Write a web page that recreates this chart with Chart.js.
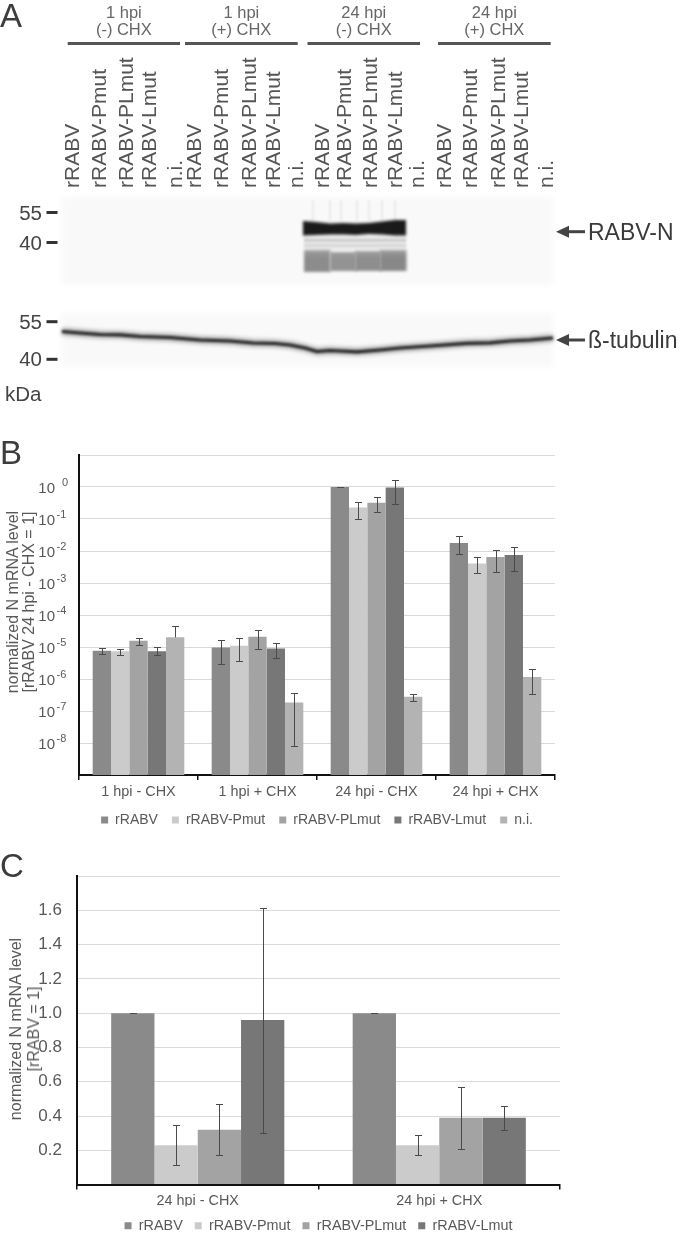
<!DOCTYPE html>
<html><head><meta charset="utf-8">
<script src="https://cdn.jsdelivr.net/npm/chart.js@4.4.1/dist/chart.umd.min.js"></script>
<style>
html,body{margin:0;padding:0;background:#fff;overflow:hidden}
#page{position:relative;width:680px;height:1235px;overflow:hidden;font-family:"Liberation Sans",Arial,sans-serif}
.t{position:absolute;white-space:nowrap;line-height:1}
.c{transform:translate(-50%,-50%)}
.rt{transform:translate(-100%,-50%)}
.l{transform:translate(0,-50%)}
.r{transform:translate(-50%,-50%) rotate(-90deg)}
.lane{transform:rotate(-90deg);transform-origin:0 0}
canvas{position:absolute;left:0}
</style></head><body><div id="page">
<canvas id="blot" width="680" height="410" style="top:0"></canvas>
<canvas id="chartB" width="680" height="410" style="top:430px"></canvas>
<canvas id="chartC" width="680" height="398" style="top:845px"></canvas>
</div>
<script>
// ---------- data ----------
const seriesNames = ['rRABV', 'rRABV-Pmut', 'rRABV-PLmut', 'rRABV-Lmut', 'n.i.'];
const seriesColors = ['#8a8a8a', '#cbcbcb', '#a3a3a3', '#777777', '#b3b3b3'];

// Panel B (log scale)
const categoriesB = ['1 hpi - CHX', '1 hpi + CHX', '24 hpi - CHX', '24 hpi + CHX'];
const rRABV_B = [7.7e-6, 9.7e-6, 1.0, 1.78e-2];
const Pmut_B  = [7.3e-6, 1.1e-5, 0.23, 4.1e-3];
const PLmut_B = [1.58e-5, 2.1e-5, 0.32, 6.5e-3];
const Lmut_B  = [7.3e-6, 8.9e-6, 0.96, 7.5e-3];
const ni_B    = [2.0e-5, 1.86e-7, 2.8e-7, 1.15e-6];
const rRABV_B_hi = [9.3e-6, 1.7e-5, 1.0, 2.9e-2];
const rRABV_B_lo = [6.2e-6, 2.9e-6, 1.0, 7.9e-3];
const Pmut_B_hi  = [8.9e-6, 1.87e-5, 0.35, 6.6e-3];
const Pmut_B_lo  = [5.5e-6, 3.7e-6, 0.10, 2.0e-3];
const PLmut_B_hi = [1.9e-5, 3.4e-5, 0.47, 1.1e-2];
const PLmut_B_lo = [1.18e-5, 8.7e-6, 0.17, 2.2e-3];
const Lmut_B_hi  = [9.7e-6, 1.3e-5, 1.65, 1.36e-2];
const Lmut_B_lo  = [5.5e-6, 4.6e-6, 0.30, 2.4e-3];
const ni_B_hi    = [4.6e-5, 3.7e-7, 3.5e-7, 2.05e-6];
const ni_B_lo    = [null, 8.3e-9, 2.1e-7, 3.5e-7];
const yTickValuesB = [1e-9, 1e-8, 1e-7, 1e-6, 1e-5, 1e-4, 1e-3, 1e-2, 1e-1, 1, 10];
const yTickBaseB = ['', '10', '10', '10', '10', '10', '10', '10', '10', '10', ''];
const yTickExpB  = ['', '-8', '-7', '-6', '-5', '-4', '-3', '-2', '-1', '0', ''];
const yTitleB = ['normalized N mRNA level', '[rRABV 24 hpi - CHX = 1]'];

// Panel C (linear)
const categoriesC = ['24 hpi - CHX', '24 hpi + CHX'];
const rRABV_C = [1.0, 1.0];
const Pmut_C  = [0.23, 0.23];
const PLmut_C = [0.32, 0.39];
const Lmut_C  = [0.96, 0.39];
const rRABV_C_hi = [1.0, 1.0];
const rRABV_C_lo = [1.0, 1.0];
const Pmut_C_hi  = [0.35, 0.29];
const Pmut_C_lo  = [0.113, 0.17];
const PLmut_C_hi = [0.47, 0.57];
const PLmut_C_lo = [0.17, 0.21];
const Lmut_C_hi  = [1.615, 0.46];
const Lmut_C_lo  = [0.30, 0.32];
const yTickValuesC = [0, 0.2, 0.4, 0.6, 0.8, 1.0, 1.2, 1.4, 1.6, 1.8];
const yTickLabelsC = ['', '0.2', '0.4', '0.6', '0.8', '1.0', '1.2', '1.4', '1.6', ''];
const yTitleC = ['normalized N mRNA level', '[rRABV = 1]'];

// Panel A (western blot annotations)
const blotGroupTop = ['1 hpi', '1 hpi', '24 hpi', '24 hpi'];
const blotGroupBottom = ['(-) CHX', '(+) CHX', '(-) CHX', '(+) CHX'];
const laneNames = ['rRABV', 'rRABV-Pmut', 'rRABV-PLmut', 'rRABV-Lmut', 'n.i.'];
const markerLabels = ['55', '40'];
const proteinLabels = ['RABV-N', 'ß-tubulin'];

// ---------- layout helpers (positions only) ----------
const page = document.getElementById('page');
function txt(s, x, y, size, color, cls, extra) {
  const d = document.createElement('div');
  d.className = 't ' + cls;
  d.textContent = s;
  d.style.left = x + 'px'; d.style.top = y + 'px';
  d.style.fontSize = size + 'px'; d.style.color = color;
  if (extra) Object.assign(d.style, extra);
  page.appendChild(d);
  return d;
}

// panel letters
txt('A', 0, -1.3, 33, '#3c3c3c', '');
txt('B', 0, 435.7, 33, '#3c3c3c', '');
txt('C', 0, 848.5, 33, '#3c3c3c', '');

// panel A group headers
const groupLines = [[67.7, 180], [185, 297.7], [307.5, 420], [438, 550.7]];
const laneX = [[71.5, 98, 125, 148.5, 174.5], [193.5, 220, 248, 272, 295], [321.5, 343, 369, 394, 416], [443, 469.5, 497, 520.5, 545]];
groupLines.forEach((g, i) => {
  const cx = (g[0] + g[1]) / 2;
  txt(blotGroupTop[i], cx, 11.5, 16.5, '#666', 'c');
  txt(blotGroupBottom[i], cx, 29, 16.5, '#666', 'c');
  laneX[i].forEach((x, j) => {
    txt(laneNames[j], x - 10.5, 188, 21, '#555', 'lane', {lineHeight: '21px'});
  });
});
// markers
[[212.5, 242.5], [321.7, 359.3]].forEach(pair => {
  pair.forEach((y, k) => txt(markerLabels[k], 42, y, 20.5, '#444', 'rt'));
});
txt('kDa', 5, 394, 20.5, '#444', 'l');
txt(proteinLabels[0], 588, 231.7, 23, '#3a3a3a', 'l');
txt(proteinLabels[1], 588, 340, 23, '#3a3a3a', 'l');

// y titles
txt(yTitleB[0], 13.3, 601.5, 16, '#595959', 'r');
txt(yTitleB[1], 29.3, 601.5, 16, '#595959', 'r');
txt(yTitleC[0], 15.8, 1029, 16, '#595959', 'r');
txt(yTitleC[1], 34, 1029, 16, '#595959', 'r');

// ---------- blot drawing ----------
(function drawBlot() {
  const c = document.getElementById('blot').getContext('2d');
  // group lines
  c.fillStyle = '#555';
  groupLines.forEach(g => c.fillRect(g[0], 42, g[1] - g[0], 3));
  // marker dashes
  c.fillStyle = '#333';
  [212.5, 242.5, 321.7, 359.3].forEach(y => c.fillRect(46.5, y - 1.5, 11, 3));
  // membranes
  c.save(); c.filter = 'blur(2px)'; c.fillStyle = '#f9f9f9';
  c.fillRect(62, 197, 491, 88); c.fillRect(62, 313, 491, 54);
  c.restore();
  // faint vertical streaks above RABV-N band
  c.save(); c.filter = 'blur(1px)'; c.fillStyle = 'rgba(0,0,0,0.06)';
  [312, 329, 340, 356, 368, 381, 394].forEach(x => c.fillRect(x, 200, 2, 21));
  c.restore();
  // faint minor bands
  c.save(); c.filter = 'blur(1.2px)';
  c.fillStyle = '#e9e9e9'; c.fillRect(304, 236, 102, 14);
  c.fillStyle = '#c8c8c8'; c.fillRect(304, 239, 102, 2.5);
  c.fillStyle = '#d2d2d2'; c.fillRect(304, 244.5, 102, 2);
  c.restore();
  // smear bands
  c.save(); c.filter = 'blur(1.8px)';
  const smear = [['#8c8c8c', 250, 22], ['#939393', 252, 19], ['#8e8e8e', 251, 20], ['#888888', 250, 21]];
  [304, 330, 355, 380].forEach((x, k) => {
    const g = c.createLinearGradient(0, smear[k][1], 0, smear[k][1] + smear[k][2]);
    g.addColorStop(0, '#a0a0a0'); g.addColorStop(0.35, smear[k][0]); g.addColorStop(1, smear[k][0]);
    c.fillStyle = g; c.fillRect(x, smear[k][1], 26.5, smear[k][2]);
  });
  c.restore();
  // main RABV-N band (continuous)
  c.save(); c.filter = 'blur(1.5px)'; c.fillStyle = '#1a1a1a';
  const topEdge = [[303, 221], [316, 222], [330, 223.5], [343, 223], [356, 223.5], [369, 223], [382, 221.5], [395, 220], [406, 220]];
  const botEdge = [[406, 235.5], [395, 235.5], [382, 234.5], [369, 234], [356, 235], [343, 234.5], [330, 234.5], [316, 235], [303, 235.5]];
  c.beginPath();
  topEdge.forEach((p, i) => i ? c.lineTo(p[0], p[1]) : c.moveTo(p[0], p[1]));
  botEdge.forEach(p => c.lineTo(p[0], p[1]));
  c.closePath(); c.fill();
  c.restore();
  // tubulin line
  const tub = [[62, 331.5], [80, 333], [100, 334.5], [120, 334.8], [140, 336.5], [170, 337.5], [200, 340], [230, 341], [253, 343], [275, 343.5], [290, 345], [305, 348], [317, 351.5], [330, 350.5], [340, 351], [357, 351.8], [380, 350], [400, 348], [430, 346], [467, 343.3], [490, 342.8], [510, 341], [530, 340], [553, 338]];
  function tubPath() { c.beginPath(); tub.forEach((p, i) => i ? c.lineTo(p[0], p[1]) : c.moveTo(p[0], p[1])); }
  c.save(); c.filter = 'blur(2px)'; c.strokeStyle = '#a0a0a0'; c.lineWidth = 7; c.lineJoin = 'round'; tubPath(); c.stroke(); c.restore();
  c.save(); c.filter = 'blur(0.8px)'; c.strokeStyle = '#2c2c2c'; c.lineWidth = 3.2; c.lineJoin = 'round'; tubPath(); c.stroke(); c.restore();
  // arrows
  c.fillStyle = '#444'; c.strokeStyle = '#444'; c.lineWidth = 3;
  [231.7, 340].forEach(y => {
    c.beginPath(); c.moveTo(565, y); c.lineTo(585, y); c.stroke();
    c.beginPath(); c.moveTo(556, y); c.lineTo(569, y - 6); c.lineTo(569, y + 6); c.closePath(); c.fill();
  });
})();

// ---------- charts ----------
Chart.defaults.font.family = '"Liberation Sans", Arial, sans-serif';
Chart.defaults.color = '#595959';

const errorBars = {
  id: 'errorBars',
  afterDatasetsDraw(chart) {
    const ctx = chart.ctx, ys = chart.scales.y;
    chart.data.datasets.forEach((ds, di) => {
      if (!ds.errHi) return;
      const meta = chart.getDatasetMeta(di);
      meta.data.forEach((bar, i) => {
        const hi = ds.errHi[i], lo = ds.errLo[i];
        const x = Math.round(bar.x) + 0.5;
        const yh = Math.round(ys.getPixelForValue(hi)) + 0.5;
        const yl = lo == null ? bar.y : Math.round(ys.getPixelForValue(lo)) + 0.5;
        ctx.save();
        ctx.strokeStyle = '#4a4a4a'; ctx.lineWidth = 1;
        ctx.beginPath();
        ctx.moveTo(x, yh); ctx.lineTo(x, yl);
        ctx.moveTo(x - 3.5, yh); ctx.lineTo(x + 3.5, yh);
        if (lo != null) { ctx.moveTo(x - 3.5, yl); ctx.lineTo(x + 3.5, yl); }
        ctx.stroke();
        ctx.restore();
      });
    });
  }
};

// power-of-ten tick labels with a raised exponent, placed through the y scale
const powerTicks = {
  id: 'powerTicks',
  afterDraw(chart) {
    const ctx = chart.ctx, ys = chart.scales.y;
    const right = ys.right - 24;
    ctx.save();
    ctx.fillStyle = '#595959';
    ctx.textBaseline = 'alphabetic';
    yTickValuesB.forEach((v, i) => {
      if (!yTickBaseB[i]) return;
      const y = ys.getPixelForValue(v);
      ctx.font = '15px "Liberation Sans", Arial, sans-serif';
      ctx.textAlign = 'right';
      ctx.fillText(yTickBaseB[i], right, y + 5.5);
      ctx.font = '11px "Liberation Sans", Arial, sans-serif';
      ctx.textAlign = 'left';
      ctx.fillText(yTickExpB[i], right + (yTickExpB[i] === '0' ? 7 : 1.5), y - 1);
    });
    ctx.restore();
  }
};

function mkDatasets(vals, his, los, catPct) {
  return vals.map((v, i) => ({
    label: seriesNames[i], data: v, backgroundColor: seriesColors[i], borderWidth: 0,
    errHi: his[i], errLo: los[i], categoryPercentage: catPct, barPercentage: 1.0
  }));
}

new Chart(document.getElementById('chartB'), {
  type: 'bar',
  data: {
    labels: categoriesB,
    datasets: mkDatasets([rRABV_B, Pmut_B, PLmut_B, Lmut_B, ni_B],
      [rRABV_B_hi, Pmut_B_hi, PLmut_B_hi, Lmut_B_hi, ni_B_hi],
      [rRABV_B_lo, Pmut_B_lo, PLmut_B_lo, Lmut_B_lo, ni_B_lo], 0.77)
  },
  options: {
    responsive: false, animation: false, events: [],
    layout: {padding: {top: 25, right: 125, bottom: 3, left: 0}},
    plugins: {
      legend: {position: 'bottom', fullSize: false,
        labels: {boxWidth: 7, boxHeight: 7, padding: 14, color: '#595959', font: {size: 14}}},
      tooltip: {enabled: false}
    },
    scales: {
      x: {
        grid: {drawOnChartArea: false, drawTicks: true, tickLength: 5, color: '#111', lineWidth: 1.5},
        border: {color: '#111', width: 2},
        ticks: {color: '#595959', font: {size: 14.4}, padding: 3},
        afterFit: s => { s.height = 24; }
      },
      y: {
        type: 'logarithmic', min: 1e-9, max: 10,
        afterBuildTicks: s => { s.ticks = yTickValuesB.map(v => ({value: v})); },
        ticks: {display: false},
        grid: {color: '#d9d9d9', lineWidth: 1, drawTicks: false},
        border: {color: '#111', width: 2},
        afterFit: s => { s.width = 79; }
      }
    }
  },
  plugins: [errorBars, powerTicks]
});

new Chart(document.getElementById('chartC'), {
  type: 'bar',
  data: {
    labels: categoriesC,
    datasets: mkDatasets([rRABV_C, Pmut_C, PLmut_C, Lmut_C],
      [rRABV_C_hi, Pmut_C_hi, PLmut_C_hi, Lmut_C_hi],
      [rRABV_C_lo, Pmut_C_lo, PLmut_C_lo, Lmut_C_lo], 0.717)
  },
  options: {
    responsive: false, animation: false, events: [],
    layout: {padding: {top: 31, right: 120, bottom: 0, left: 0}},
    plugins: {
      legend: {position: 'bottom', fullSize: false,
        labels: {boxWidth: 7, boxHeight: 7, padding: 12, color: '#595959', font: {size: 14.4}}},
      tooltip: {enabled: false}
    },
    scales: {
      x: {
        grid: {drawOnChartArea: false, drawTicks: true, tickLength: 5, color: '#111', lineWidth: 1.5},
        border: {color: '#111', width: 2},
        ticks: {color: '#595959', font: {size: 14.4}, padding: 3},
        afterFit: s => { s.height = 22; }
      },
      y: {
        type: 'linear', min: 0, max: 1.8,
        afterBuildTicks: s => { s.ticks = yTickValuesC.map(v => ({value: v})); },
        ticks: {callback: (v, i) => yTickLabelsC[i], color: '#595959', font: {size: 17}, padding: 15, autoSkip: false},
        grid: {color: '#dadada', lineWidth: 1, drawTicks: false},
        border: {color: '#111', width: 2},
        afterFit: s => { s.width = 77; }
      }
    }
  },
  plugins: [errorBars]
});
</script>
</body></html>
